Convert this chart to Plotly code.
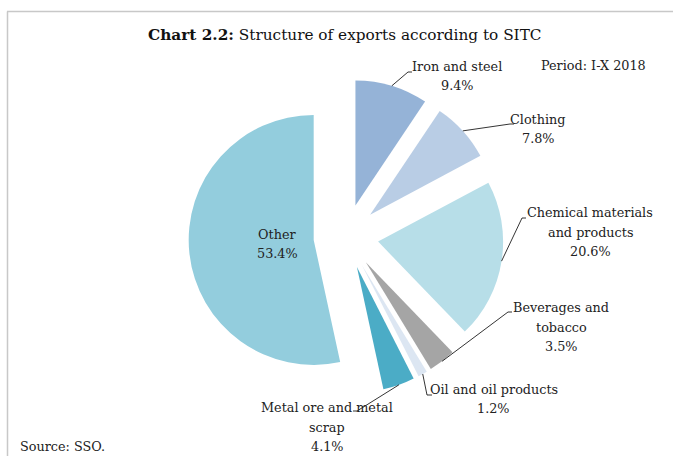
import math
import plotly.graph_objects as go

W, H = 673, 456

# data (share of exports, %)
labels = ["Iron and steel", "Clothing", "Chemical materials and products",
          "Beverages and tobacco", "Oil and oil products",
          "Metal ore and metal scrap", "Other"]
shares = [9.4, 7.8, 20.6, 3.5, 1.2, 4.1, 53.4]
label_lines = [["Iron and steel", "9.4%"], ["Clothing", "7.8%"],
               ["Chemical materials", "and products", "20.6%"],
               ["Beverages and", "tobacco", "3.5%"], ["Oil and oil products", "1.2%"],
               ["Metal ore and metal", "scrap", "4.1%"], ["Other", "53.4%"]]
colors = ["#95b3d7", "#b9cde5", "#b7dee8", "#a5a5a5", "#dce6f2", "#4bacc6", "#93cddd"]

FONT = "DejaVu Serif"
FS = 12.8
LINE_H = 19.3
PULL = 0.26
CX, CY, R = 346, 236.5, 125          # pie centre / radius in pixels
EXT = R * (1 + PULL)


def px(x, y):
    return x / W, 1 - y / H


fig = go.Figure(go.Pie(
    labels=labels, values=shares, sort=False, direction="clockwise", rotation=0,
    marker=dict(colors=colors, line=dict(width=0)), pull=[PULL] * len(shares),
    textinfo="none", hoverinfo="label+percent", showlegend=False,
    domain=dict(x=[(CX - EXT) / W, (CX + EXT) / W],
                y=[1 - (CY + EXT) / H, 1 - (CY - EXT) / H]),
))

# label placement (centre of text block) and leader-line elbow, pixels
label_pos = [(457, 76), (538, 129), (590, 232), (561, 327), (494, 399), (327, 427), (277, 244)]
elbows = [((408, 72), (412, 72)), ((510, 124), (514, 124)), ((522, 218), (526, 218)),
          ((508, 312), (512, 312)), ((427, 395), (432, 395)), ((357, 411), (353, 411)), None]

annotations = []
shapes = []
cum = 0
for i, v in enumerate(shares):
    mid = math.radians((cum + v / 2) / 100 * 360)
    cum += v
    lx, ly = label_pos[i]
    n = len(label_lines[i])
    for k, line in enumerate(label_lines[i]):
        x, y = px(lx, ly + (k - (n - 1) / 2) * LINE_H)
        annotations.append(dict(text=line, x=x, y=y, xref="paper", yref="paper",
                                xanchor="center", yanchor="middle", showarrow=False,
                                font=dict(family=FONT, size=FS, color="#222")))
    if elbows[i]:
        tx = CX + EXT * math.sin(mid)
        ty = CY - EXT * math.cos(mid)
        (ex, ey), (hx, hy) = elbows[i]
        p = [px(tx, ty), px(ex, ey), px(hx, hy)]
        shapes.append(dict(type="path", xref="paper", yref="paper",
                           path="M {} {} L {} {} L {} {}".format(p[0][0], p[0][1], p[1][0], p[1][1], p[2][0], p[2][1]),
                           line=dict(color="#000", width=0.8)))

annotations += [
    dict(text="<b>Chart 2.2:</b> Structure of exports according to SITC", x=px(345, 0)[0], y=px(0, 35)[1],
         xref="paper", yref="paper", xanchor="center", yanchor="middle", showarrow=False,
         font=dict(family=FONT, size=15.3, color="#111")),
    dict(text="Period: I-X 2018", x=px(648, 0)[0], y=px(0, 65)[1], xanchor="right", yanchor="middle",
         xref="paper", yref="paper", showarrow=False, font=dict(family=FONT, size=FS, color="#222")),
    dict(text="Source: SSO.", x=px(18, 0)[0], y=px(0, 446)[1], xanchor="left", yanchor="middle",
         xref="paper", yref="paper", showarrow=False, font=dict(family=FONT, size=FS, color="#222")),
]

# frame lines (top and left)
shapes += [
    dict(type="line", xref="paper", yref="paper", x0=7 / W, x1=1, y0=1 - 11.5 / H, y1=1 - 11.5 / H,
         line=dict(color="#c8c8c8", width=1.5)),
    dict(type="line", xref="paper", yref="paper", x0=7.5 / W, x1=7.5 / W, y0=0, y1=1 - 11.5 / H,
         line=dict(color="#c8c8c8", width=1.5)),
]

fig.update_layout(width=W, height=H, margin=dict(l=0, r=0, t=0, b=0),
                  paper_bgcolor="white", plot_bgcolor="white",
                  annotations=annotations, shapes=shapes)

# page body has a default 8px margin; drop it so the figure fills the window
fig.write_html("out.html", config={"displayModeBar": False},
               post_script="document.body.style.margin='0';")
